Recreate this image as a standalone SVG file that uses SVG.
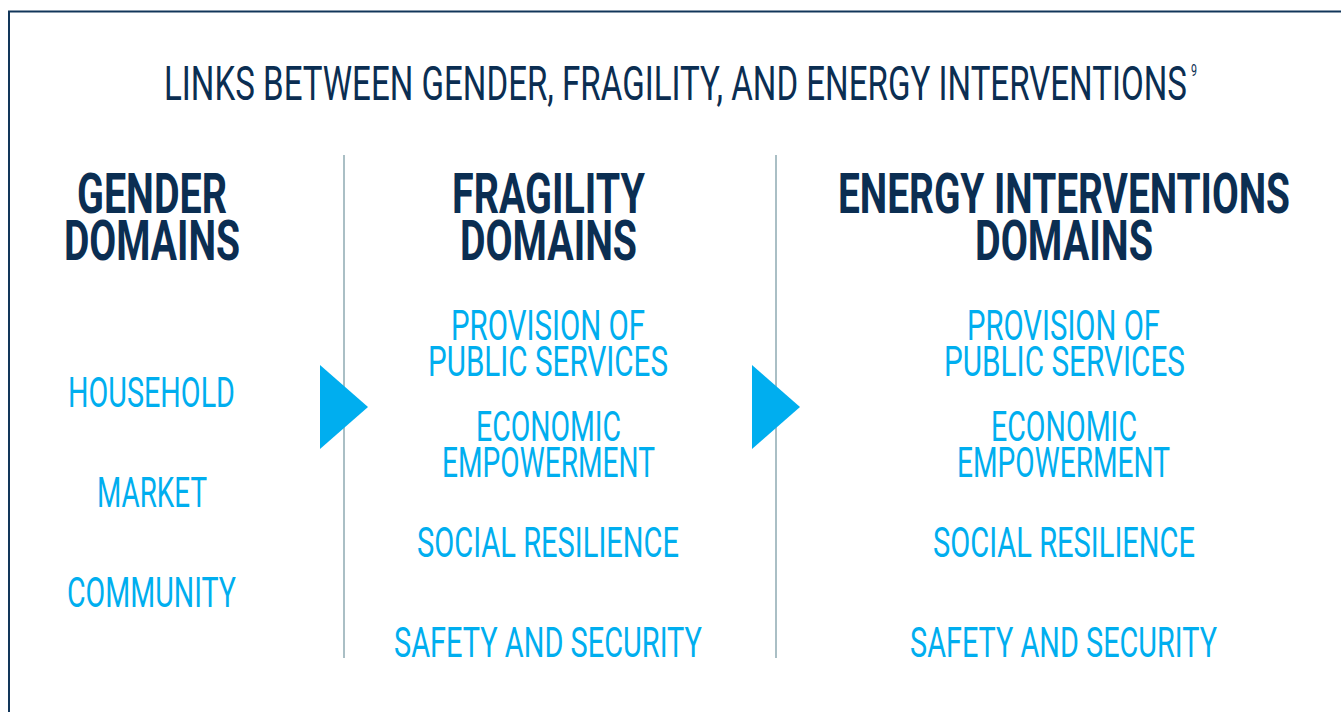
<svg xmlns="http://www.w3.org/2000/svg" width="1341" height="712" viewBox="0 0 1341 712">
<style>
.title{font-family:Roboto,"Liberation Sans",sans-serif;font-size:49px;fill:#0b2e52;text-anchor:middle}
.head{font-family:Roboto,"Liberation Sans",sans-serif;font-size:56px;font-weight:700;fill:#0b2e52;text-anchor:middle}
.item{font-family:Roboto,"Liberation Sans",sans-serif;font-size:42px;fill:#00aeef;text-anchor:middle}
.div{stroke:#8eaab2;stroke-width:1.5}
.arrow{fill:#00aeef}
</style>
<rect width="1341" height="712" fill="#fff"/>
<path d="M9,712 V11.5 H1341" fill="none" stroke="#12365a" stroke-width="2"/>
<g id="title">
<text class="title" x="675.5" y="100" textLength="1023" lengthAdjust="spacingAndGlyphs">LINKS BETWEEN GENDER, FRAGILITY, AND ENERGY INTERVENTIONS</text>
<text x="1194" y="76" font-family="Roboto,'Liberation Sans',sans-serif" font-size="16" fill="#0b2e52" text-anchor="middle" textLength="6" lengthAdjust="spacingAndGlyphs">9</text>
</g>
<g id="connectors">
<line class="div" x1="344" y1="155" x2="344" y2="658"/>
<line class="div" x1="776" y1="155" x2="776" y2="658"/>
<polygon class="arrow" points="320,365 368,407 320,449"/>
<polygon class="arrow" points="752,365 800,407 752,449"/>
</g>
<g id="gender">
<text class="head" x="152" y="213" textLength="150" lengthAdjust="spacingAndGlyphs">GENDER</text>
<text class="head" x="152" y="260" textLength="176" lengthAdjust="spacingAndGlyphs">DOMAINS</text>
<text class="item" x="151.5" y="407" textLength="167" lengthAdjust="spacingAndGlyphs">HOUSEHOLD</text>
<text class="item" x="152" y="507" textLength="110" lengthAdjust="spacingAndGlyphs">MARKET</text>
<text class="item" x="151.5" y="607" textLength="169" lengthAdjust="spacingAndGlyphs">COMMUNITY</text>
</g>
<g id="fragility">
<text class="head" x="548.5" y="213" textLength="193" lengthAdjust="spacingAndGlyphs">FRAGILITY</text>
<text class="head" x="548.5" y="260" textLength="177" lengthAdjust="spacingAndGlyphs">DOMAINS</text>
<text class="item" x="548" y="340" textLength="194" lengthAdjust="spacingAndGlyphs">PROVISION OF</text>
<text class="item" x="548" y="376" textLength="240" lengthAdjust="spacingAndGlyphs">PUBLIC SERVICES</text>
<text class="item" x="548.5" y="441" textLength="145" lengthAdjust="spacingAndGlyphs">ECONOMIC</text>
<text class="item" x="548.5" y="477" textLength="213" lengthAdjust="spacingAndGlyphs">EMPOWERMENT</text>
<text class="item" x="548" y="557" textLength="262" lengthAdjust="spacingAndGlyphs">SOCIAL RESILIENCE</text>
<text class="item" x="548" y="657" textLength="308" lengthAdjust="spacingAndGlyphs">SAFETY AND SECURITY</text>
</g>
<g id="energy">
<text class="head" x="1064" y="213" textLength="452" lengthAdjust="spacingAndGlyphs">ENERGY INTERVENTIONS</text>
<text class="head" x="1064" y="260" textLength="178" lengthAdjust="spacingAndGlyphs">DOMAINS</text>
<text class="item" x="1063.5" y="340" textLength="193" lengthAdjust="spacingAndGlyphs">PROVISION OF</text>
<text class="item" x="1064.5" y="376" textLength="241" lengthAdjust="spacingAndGlyphs">PUBLIC SERVICES</text>
<text class="item" x="1064" y="441" textLength="146" lengthAdjust="spacingAndGlyphs">ECONOMIC</text>
<text class="item" x="1063.5" y="477" textLength="213" lengthAdjust="spacingAndGlyphs">EMPOWERMENT</text>
<text class="item" x="1064" y="557" textLength="262" lengthAdjust="spacingAndGlyphs">SOCIAL RESILIENCE</text>
<text class="item" x="1063.5" y="657" textLength="307" lengthAdjust="spacingAndGlyphs">SAFETY AND SECURITY</text>
</g>
</svg>
